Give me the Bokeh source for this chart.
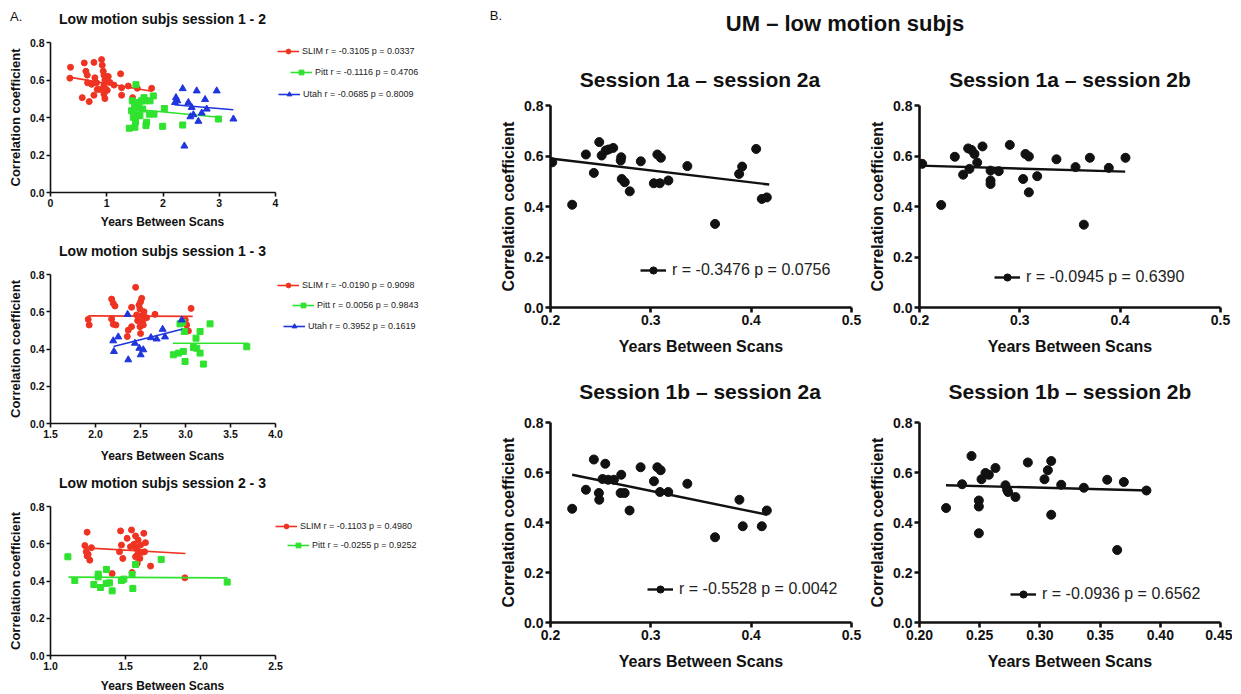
import numpy as np
from bokeh.plotting import figure
from bokeh.models import Range1d, FixedTicker, PrintfTickFormatter, Legend, LegendItem, Div
from bokeh.layouts import row, column
from bokeh.embed import file_html
from bokeh.resources import INLINE

FONT = "Liberation Sans"
RED = "#ef3322"
GREEN = "#2fe22f"
BLUE = "#1f36dc"
INK = "#111111"

# ---------------- Panel A data ----------------
# A1: session 1 - 2
a1_slim_x = [0.356, 0.344, 0.564, 0.60, 0.629, 0.653, 0.659, 0.688, 0.730, 0.772, 0.789, 0.772, 0.819,
             0.878, 0.908, 0.920, 0.938, 0.950, 0.967, 0.950, 0.973, 0.950, 0.967, 1.009, 1.056, 1.128,
             1.246, 1.264, 1.264, 1.383, 1.460, 1.543, 1.798, 1.027, 0.831]
a1_slim_y = [0.668, 0.610, 0.506, 0.691, 0.647, 0.626, 0.585, 0.485, 0.577, 0.694, 0.612, 0.519, 0.585,
             0.550, 0.709, 0.679, 0.647, 0.626, 0.600, 0.573, 0.556, 0.524, 0.501, 0.545, 0.587, 0.573,
             0.633, 0.559, 0.519, 0.568, 0.506, 0.556, 0.556, 0.619, 0.550]
a1_pitt_x = [1.519, 1.401, 1.442, 1.454, 1.472, 1.496, 1.513, 1.501, 1.531, 1.549, 1.573, 1.590, 1.638,
             1.680, 1.697, 1.709, 1.757, 1.828, 1.840, 1.769, 1.994, 2.024, 2.350, 2.985, 1.662, 1.620]
a1_pitt_y = [0.575, 0.343, 0.436, 0.489, 0.401, 0.468, 0.380, 0.348, 0.418, 0.454, 0.480, 0.410, 0.445,
             0.489, 0.357, 0.375, 0.418, 0.515, 0.418, 0.489, 0.353, 0.448, 0.360, 0.392, 0.506, 0.489]
a1_utah_x = [2.350, 2.231, 2.255, 2.599, 2.748, 2.955, 2.451, 2.510, 2.487, 2.540, 2.629, 2.688, 2.777,
             3.252, 2.380, 2.214]
a1_utah_y = [0.554, 0.506, 0.489, 0.542, 0.496, 0.542, 0.480, 0.454, 0.404, 0.415, 0.380, 0.424, 0.445,
             0.392, 0.248, 0.480]
a1_slim_fit_x = [0.36, 1.80]
a1_slim_fit_y = [0.614, 0.540]
a1_pitt_fit_x = [1.45, 3.00]
a1_pitt_fit_y = [0.445, 0.401]
a1_utah_fit_x = [2.20, 3.25]
a1_utah_fit_y = [0.468, 0.441]
a1_labels = ["SLIM r = -0.3105 p = 0.0337", "Pitt r = -0.1116 p = 0.4706", "Utah r = -0.0685 p = 0.8009"]

# A2: session 1 - 3
a2_slim_x = [1.919, 1.930, 2.179, 2.197, 2.216, 2.179, 2.197, 2.227, 2.364, 2.353, 2.401, 2.401, 2.446,
             2.457, 2.468, 2.483, 2.494, 2.501, 2.513, 2.501, 2.524, 2.539, 2.513, 2.531, 2.568, 2.661,
             3.013, 3.032, 3.062, 2.998, 2.494]
a2_slim_y = [0.559, 0.529, 0.668, 0.645, 0.631, 0.561, 0.533, 0.529, 0.501, 0.467, 0.520, 0.624, 0.731,
             0.583, 0.552, 0.636, 0.615, 0.654, 0.672, 0.483, 0.547, 0.600, 0.579, 0.529, 0.568, 0.586,
             0.529, 0.497, 0.618, 0.556, 0.520]
a2_pitt_x = [2.865, 2.921, 2.939, 2.976, 2.995, 2.969, 2.987, 3.088, 3.117, 3.125, 3.162, 3.162, 3.199,
             3.273, 3.681]
a2_pitt_y = [0.369, 0.378, 0.535, 0.387, 0.333, 0.543, 0.494, 0.408, 0.458, 0.404, 0.494, 0.378, 0.319,
             0.535, 0.412]
a2_utah_x = [2.205, 2.197, 2.253, 2.357, 2.364, 2.438, 2.487, 2.502, 2.531, 2.616, 2.680, 2.746, 2.772, 2.958]
a2_utah_y = [0.387, 0.444, 0.465, 0.586, 0.342, 0.431, 0.404, 0.369, 0.396, 0.461, 0.454, 0.506, 0.465, 0.556]
a2_slim_fit_x = [1.92, 3.08]
a2_slim_fit_y = [0.578, 0.575]
a2_pitt_fit_x = [2.86, 3.70]
a2_pitt_fit_y = [0.431, 0.431]
a2_utah_fit_x = [2.20, 2.96]
a2_utah_fit_y = [0.413, 0.506]
a2_labels = ["SLIM r = -0.0190 p = 0.9098", "Pitt r = 0.0056 p = 0.9843", "Utah r = 0.3952 p = 0.1619"]

# A3: session 2 - 3
a3_slim_x = [1.244, 1.229, 1.238, 1.244, 1.251, 1.262, 1.273, 1.411, 1.467, 1.460, 1.473, 1.482, 1.511,
             1.540, 1.544, 1.556, 1.567, 1.571, 1.578, 1.578, 1.584, 1.589, 1.596, 1.600, 1.611, 1.622,
             1.633, 1.627, 1.667, 1.896, 1.567, 1.533]
a3_slim_y = [0.662, 0.590, 0.557, 0.534, 0.543, 0.512, 0.579, 0.440, 0.669, 0.557, 0.593, 0.521, 0.629,
             0.674, 0.446, 0.597, 0.642, 0.575, 0.539, 0.494, 0.620, 0.557, 0.521, 0.593, 0.554, 0.656,
             0.606, 0.557, 0.480, 0.417, 0.530, 0.584]
a3_pitt_x = [1.116, 1.162, 1.289, 1.318, 1.333, 1.371, 1.373, 1.393, 1.411, 1.473, 1.489, 1.544, 1.549,
             1.567, 1.738, 2.178, 1.318]
a3_pitt_y = [0.530, 0.403, 0.381, 0.437, 0.365, 0.387, 0.462, 0.390, 0.347, 0.403, 0.410, 0.435, 0.360,
             0.489, 0.516, 0.394, 0.422]
a3_slim_fit_x = [1.23, 1.90]
a3_slim_fit_y = [0.578, 0.548]
a3_pitt_fit_x = [1.12, 2.18]
a3_pitt_fit_y = [0.421, 0.417]
a3_labels = ["SLIM r = -0.1103 p = 0.4980", "Pitt r = -0.0255 p = 0.9252"]

# ---------------- Panel B data ----------------
b1_x = [0.2017, 0.2216, 0.2353, 0.2432, 0.2486, 0.251, 0.255, 0.258, 0.2625, 0.2705, 0.270, 0.271, 0.274,
        0.279, 0.290, 0.303, 0.3065, 0.310, 0.309, 0.3175, 0.3364, 0.364, 0.388, 0.391, 0.405, 0.4106, 0.4156]
b1_y = [0.575, 0.407, 0.606, 0.533, 0.655, 0.602, 0.622, 0.626, 0.632, 0.595, 0.582, 0.509, 0.496,
        0.460, 0.579, 0.492, 0.606, 0.593, 0.492, 0.503, 0.560, 0.331, 0.529, 0.558, 0.628, 0.430, 0.436]
b1_fit_x = [0.20, 0.418]
b1_fit_y = [0.590, 0.487]
b1_label = "r = -0.3476 p = 0.0756"

b2_x = [0.2027, 0.2216, 0.2352, 0.2435, 0.2485, 0.2518, 0.2548, 0.2498, 0.2575, 0.2628, 0.2708, 0.2708,
        0.2708, 0.279, 0.290, 0.3056, 0.309, 0.3033, 0.309, 0.3173, 0.3365, 0.3555, 0.3638, 0.3698,
        0.3887, 0.4053]
b2_y = [0.569, 0.406, 0.597, 0.526, 0.630, 0.624, 0.608, 0.549, 0.574, 0.638, 0.542, 0.503, 0.489,
        0.540, 0.644, 0.608, 0.598, 0.509, 0.456, 0.520, 0.587, 0.556, 0.328, 0.593, 0.553, 0.593]
b2_fit_x = [0.20, 0.405]
b2_fit_y = [0.562, 0.538]
b2_label = "r = -0.0945 p = 0.6390"

b3_x = [0.2216, 0.2353, 0.2432, 0.2482, 0.2486, 0.2519, 0.2546, 0.2575, 0.2632, 0.2705, 0.2699, 0.2739,
        0.2788, 0.2898, 0.3031, 0.3065, 0.3098, 0.3091, 0.3174, 0.3364, 0.364, 0.3883, 0.3916, 0.4106, 0.4156]
b3_y = [0.455, 0.531, 0.652, 0.518, 0.491, 0.574, 0.635, 0.571, 0.571, 0.591, 0.518, 0.518,
        0.448, 0.621, 0.565, 0.621, 0.609, 0.522, 0.522, 0.555, 0.341, 0.491, 0.385, 0.385, 0.448]
b3_fit_x = [0.2216, 0.416]
b3_fit_y = [0.591, 0.431]
b3_label = "r = -0.5528 p = 0.0042"

b4_x = [0.2221, 0.2354, 0.2432, 0.2493, 0.2493, 0.2493, 0.2515, 0.2548, 0.2576, 0.2631, 0.2714, 0.2728,
        0.2736, 0.2797, 0.290, 0.3038, 0.3066, 0.3094, 0.3094, 0.3177, 0.3365, 0.3559, 0.3642, 0.3697, 0.3885]
b4_y = [0.458, 0.553, 0.666, 0.488, 0.464, 0.357, 0.573, 0.598, 0.591, 0.618, 0.549, 0.531,
        0.522, 0.502, 0.640, 0.573, 0.609, 0.646, 0.431, 0.551, 0.539, 0.571, 0.290, 0.562, 0.528]
b4_fit_x = [0.222, 0.390]
b4_fit_y = [0.549, 0.528]
b4_label = "r = -0.0936 p = 0.6562"

y_ticks = [0.0, 0.2, 0.4, 0.6, 0.8]
a1_xticks = [0, 1, 2, 3, 4]
a2_xticks = [1.5, 2.0, 2.5, 3.0, 3.5, 4.0]
a3_xticks = [1.0, 1.5, 2.0, 2.5]
b_xticks = [0.2, 0.3, 0.4, 0.5]
b4_xticks = [0.20, 0.25, 0.30, 0.35, 0.40, 0.45]

X_LABEL = "Years Between Scans"
Y_LABEL = "Correlation coefficient"

A_W = 438
A_LEFT = 50
A_RIGHT = 5
A_AXIS_W = 225          # pixel length of the drawn x axis in panel A
A_FRAME_W = A_W - A_LEFT - A_RIGHT
B_W = 794


def make_fig(width, height, left, right, top, bottom, xr, xbounds, xticks, xfmt, xlabel,
             lw, tick_size, ylab_size, xlab_size, xlab_standoff, ylab_standoff):
    p = figure(width=width, height=height, output_backend="svg", toolbar_location=None,
               x_range=Range1d(*xr), y_range=Range1d(0, 0.8),
               min_border_left=left, min_border_right=right,
               min_border_top=top, min_border_bottom=bottom)
    p.outline_line_color = None
    p.grid.visible = False
    p.background_fill_color = "white"
    p.border_fill_color = "white"
    p.xaxis.ticker = FixedTicker(ticks=xticks)
    p.xaxis.formatter = PrintfTickFormatter(format=xfmt)
    p.xaxis.bounds = xbounds
    p.yaxis.ticker = FixedTicker(ticks=y_ticks)
    p.yaxis.formatter = PrintfTickFormatter(format="%.1f")
    p.xaxis.axis_label = xlabel
    p.yaxis.axis_label = Y_LABEL
    for ax in (p.xaxis, p.yaxis):
        ax.axis_line_width = lw
        ax.axis_line_color = INK
        ax.major_tick_line_width = lw
        ax.major_tick_line_color = INK
        ax.major_tick_out = 5 if lw > 2 else 4
        ax.major_tick_in = 0
        ax.minor_tick_line_color = None
        ax.major_label_text_font = FONT
        ax.major_label_text_font_style = "bold"
        ax.major_label_text_color = INK
        ax.major_label_text_font_size = tick_size
        ax.major_label_standoff = 2
        ax.axis_label_text_font = FONT
        ax.axis_label_text_font_style = "bold"
        ax.axis_label_text_color = INK
    p.xaxis.axis_label_standoff = xlab_standoff
    p.yaxis.axis_label_standoff = ylab_standoff
    p.xaxis.axis_label_text_font_size = xlab_size
    p.yaxis.axis_label_text_font_size = ylab_size
    return p


def text_div(width, height, pieces):
    """pieces: (left, box_width, top, font_px, bold, text)"""
    inner = "".join(
        "<div style=\"position:absolute;left:%dpx;width:%dpx;top:%dpx;text-align:center;"
        "font-size:%spx;font-weight:%s;white-space:nowrap;\">%s</div>"
        % (l, w, t, fs, "bold" if b else "normal", txt) for (l, w, t, fs, b, txt) in pieces)
    html = ("<div style=\"position:relative;width:%dpx;height:%dpx;overflow:visible;"
            "font-family:'Liberation Sans',Arial,sans-serif;color:#111;\">%s</div>" % (width, height, inner))
    return Div(text=html, width=width, height=height, margin=0)


def panel_a(height, top, xr, xticks, xfmt, series, labels, leg_pos):
    x0, x1 = xr
    x_end = x0 + (x1 - x0) * A_FRAME_W / A_AXIS_W
    p = make_fig(A_W, height, A_LEFT, A_RIGHT, top, 22, (x0, x_end), (x0, x1), xticks, xfmt, None,
                 1.6, "10.5px", "13px", "12px", 4, 4)
    for (x, y, fx, fy, color, marker, size), lab, pos in zip(series, labels, leg_pos):
        ln = p.line(fx, fy, line_color=color, line_width=1.6)
        sc = p.scatter(x, y, marker=marker, size=size, fill_color=color, line_color=color)
        leg = Legend(items=[LegendItem(label=lab, renderers=[ln, sc])], location=pos,
                     label_text_font=FONT, label_text_font_size="9px",
                     label_text_color="#222222", glyph_width=22, glyph_height=12, label_height=12,
                     padding=0, margin=0, border_line_color=None,
                     background_fill_alpha=0, label_standoff=3)
        p.add_layout(leg)
    return p


a1 = panel_a(186, 14, (0, 4), a1_xticks, "%d",
             [(a1_slim_x, a1_slim_y, a1_slim_fit_x, a1_slim_fit_y, RED, "circle", 6),
              (a1_pitt_x, a1_pitt_y, a1_pitt_fit_x, a1_pitt_fit_y, GREEN, "square", 6),
              (a1_utah_x, a1_utah_y, a1_utah_fit_x, a1_utah_fit_y, BLUE, "triangle", 7)],
             a1_labels, [(227, 135), (240, 114), (228, 92)])
a2 = panel_a(183, 12, (1.5, 4.0), a2_xticks, "%.1f",
             [(a2_slim_x, a2_slim_y, a2_slim_fit_x, a2_slim_fit_y, RED, "circle", 6),
              (a2_pitt_x, a2_pitt_y, a2_pitt_fit_x, a2_pitt_fit_y, GREEN, "square", 6),
              (a2_utah_x, a2_utah_y, a2_utah_fit_x, a2_utah_fit_y, BLUE, "triangle", 7)],
             a2_labels, [(227, 132), (242, 112), (233, 91)])
a3 = panel_a(187, 16, (1.0, 2.5), a3_xticks, "%.1f",
             [(a3_slim_x, a3_slim_y, a3_slim_fit_x, a3_slim_fit_y, RED, "circle", 6),
              (a3_pitt_x, a3_pitt_y, a3_pitt_fit_x, a3_pitt_fit_y, GREEN, "square", 6)],
             a3_labels, [(225, 123), (237, 104)])

t1 = text_div(A_W, 28, [(10, 12, 8, 13, False, "A."),
                        (0, 325, 9, 14, True, "Low motion subjs session 1 - 2")])
t2 = text_div(A_W, 48, [(0, 325, 0, 12, True, X_LABEL),
                        (0, 325, 27, 14, True, "Low motion subjs session 1 - 3")])
t3 = text_div(A_W, 45, [(0, 325, 3, 12, True, X_LABEL),
                        (0, 325, 28, 14, True, "Low motion subjs session 2 - 3")])
t4 = text_div(A_W, 15, [(0, 325, 1, 12, True, X_LABEL)])


def panel_b(width, height, left, right, top, bottom, xr, xticks, xfmt, x, y, fx, fy, lab, loc):
    p = make_fig(width, height, left, right, top, bottom, xr, xr, xticks, xfmt, X_LABEL,
                 2.6, "14px", "16px", "16px", 10, 4)
    ln = p.line(fx, fy, line_color=INK, line_width=2.4)
    sc = p.scatter(x, y, marker="circle", size=9, fill_color=INK, line_color=INK)
    leg = Legend(items=[LegendItem(label=lab, renderers=[ln, sc])], location=loc,
                 label_text_font=FONT, label_text_font_size="16px", label_text_color="#222222",
                 glyph_width=26, glyph_height=18, label_height=18, padding=0, margin=0,
                 border_line_color=None, background_fill_alpha=0, label_standoff=6)
    p.add_layout(leg)
    return p


b1 = panel_b(427, 269, 112, 14, 8, 59, (0.2, 0.5), b_xticks, "%.1f",
             b1_x, b1_y, b1_fit_x, b1_fit_y, b1_label, (90, 28))
b2 = panel_b(367, 269, 54, 12, 8, 59, (0.2, 0.5), b_xticks, "%.1f",
             b2_x, b2_y, b2_fit_x, b2_fit_y, b2_label, (75, 21))
b3 = panel_b(427, 280, 112, 14, 10, 70, (0.2, 0.5), b_xticks, "%.1f",
             b3_x, b3_y, b3_fit_x, b3_fit_y, b3_label, (97, 24))
b4 = panel_b(367, 280, 54, 12, 10, 70, (0.20, 0.45), b4_xticks, "%.2f",
             b4_x, b4_y, b4_fit_x, b4_fit_y, b4_label, (91, 19))

header = text_div(B_W, 97, [(50, 16, 7, 13, False, "B."),
                            (0, 814, 8, 22, True, "UM \u2013 low motion subjs"),
                            (62, 400, 65, 21, True, "Session 1a \u2013 session 2a"),
                            (432, 400, 65, 21, True, "Session 1a \u2013 session 2b")])
mid = text_div(B_W, 46, [(62, 400, 11, 21, True, "Session 1b \u2013 session 2a"),
                         (432, 400, 11, 21, True, "Session 1b \u2013 session 2b")])

layout = row(column(t1, a1, t2, a2, t3, a3, t4, spacing=0),
             column(header, row(b1, b2, spacing=0), mid, row(b3, b4, spacing=0), spacing=0),
             spacing=0)

open("out.html", "w").write(file_html(layout, INLINE))
